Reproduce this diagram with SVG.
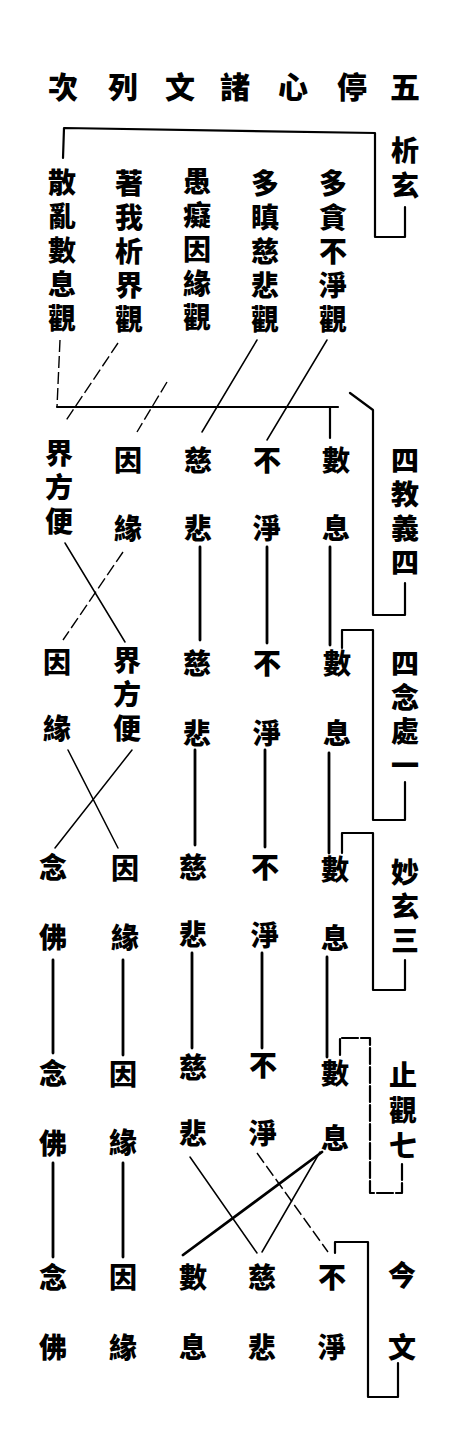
<svg xmlns="http://www.w3.org/2000/svg" width="452" height="1440" viewBox="0 0 452 1440">
<style>
text{font-family:"Noto Sans CJK TC","Noto Sans CJK SC",sans-serif;font-weight:900;fill:#000;font-size:28px}
.t{font-size:30px;text-anchor:middle}
.v{writing-mode:vertical-rl;text-anchor:start}
.ln{fill:none;stroke:#000;stroke-width:2.2;stroke-linecap:round;stroke-linejoin:round}
.th{fill:none;stroke:#000;stroke-width:1.5;stroke-linecap:round}
.ds{fill:none;stroke:#000;stroke-width:1.4;stroke-dasharray:12 4}
.hv{fill:none;stroke:#000;stroke-width:2.8;stroke-linecap:round}
</style>
<rect width="452" height="1440" fill="#fff"/>
<g id="title">
<text class="t" x="405" y="98">五</text><text class="t" x="352" y="98">停</text><text class="t" x="293" y="98">心</text><text class="t" x="235" y="98">諸</text><text class="t" x="180" y="98">文</text><text class="t" x="123" y="98">列</text><text class="t" x="63" y="98">次</text>
</g>
<g id="src-xuanxuan"><text class="v" x="405" y="136" letter-spacing="7">析玄</text></g>
<g id="n-bujing-guan"><text class="v" x="333" y="169" letter-spacing="6">多貪不淨觀</text></g>
<g id="n-cibei-guan"><text class="v" x="265" y="169" letter-spacing="6">多瞋慈悲觀</text></g>
<g id="n-yinyuan-guan"><text class="v" x="197" y="167" letter-spacing="6">愚癡因緣觀</text></g>
<g id="n-jie-guan"><text class="v" x="129" y="169" letter-spacing="6">著我析界觀</text></g>
<g id="n-shuxi-guan"><text class="v" x="62" y="168" letter-spacing="6">散亂數息觀</text></g>

<g id="src-sijiaoyi"><text class="v" x="405" y="446" letter-spacing="6">四教義四</text></g>
<g id="r2-shuxi"><text class="v" x="336" y="446" letter-spacing="40">數息</text></g>
<g id="r2-bujing"><text class="v" x="267" y="446" letter-spacing="40">不淨</text></g>
<g id="r2-cibei"><text class="v" x="198" y="446" letter-spacing="40">慈悲</text></g>
<g id="r2-yinyuan"><text class="v" x="128" y="446" letter-spacing="40">因緣</text></g>
<g id="r2-jiefangbian"><text class="v" x="59" y="439" letter-spacing="6">界方便</text></g>

<g id="src-sinianchu"><text class="v" x="405" y="649" letter-spacing="6">四念處一</text></g>
<g id="r3-shuxi"><text class="v" x="337" y="649" letter-spacing="42">數息</text></g>
<g id="r3-bujing"><text class="v" x="267" y="649" letter-spacing="42">不淨</text></g>
<g id="r3-cibei"><text class="v" x="197" y="649" letter-spacing="42">慈悲</text></g>
<g id="r3-jiefangbian"><text class="v" x="127" y="646" letter-spacing="6">界方便</text></g>
<g id="r3-yinyuan"><text class="v" x="57" y="648" letter-spacing="38">因緣</text></g>

<g id="src-miaoxuan"><text class="v" x="405" y="858" letter-spacing="6">妙玄三</text></g>
<g id="r4-shuxi"><text class="v" x="335" y="855" letter-spacing="41">數息</text></g>
<g id="r4-bujing"><text class="v" x="265" y="853" letter-spacing="40">不淨</text></g>
<g id="r4-cibei"><text class="v" x="193" y="853" letter-spacing="39">慈悲</text></g>
<g id="r4-yinyuan"><text class="v" x="125" y="854" letter-spacing="41">因緣</text></g>
<g id="r4-nianfo"><text class="v" x="53" y="853" letter-spacing="42">念佛</text></g>

<g id="src-zhiguan"><text class="v" x="403" y="1061" letter-spacing="7">止觀七</text></g>
<g id="r5-shuxi"><text class="v" x="335" y="1059" letter-spacing="37">數息</text></g>
<g id="r5-bujing"><text class="v" x="263" y="1051" letter-spacing="40">不淨</text></g>
<g id="r5-cibei"><text class="v" x="193" y="1053" letter-spacing="38">慈悲</text></g>
<g id="r5-yinyuan"><text class="v" x="123" y="1060" letter-spacing="40">因緣</text></g>
<g id="r5-nianfo"><text class="v" x="53" y="1059" letter-spacing="42">念佛</text></g>

<g id="src-jinwen"><text class="v" x="402" y="1261" letter-spacing="44">今文</text></g>
<g id="r6-bujing"><text class="v" x="332" y="1263" letter-spacing="42">不淨</text></g>
<g id="r6-cibei"><text class="v" x="262" y="1263" letter-spacing="42">慈悲</text></g>
<g id="r6-shuxi"><text class="v" x="193" y="1263" letter-spacing="42">數息</text></g>
<g id="r6-yinyuan"><text class="v" x="123" y="1263" letter-spacing="42">因緣</text></g>
<g id="r6-nianfo"><text class="v" x="53" y="1263" letter-spacing="42">念佛</text></g>

<g id="connectors">
<path class="ln" d="M63,158 L64,128 L375,133 L375,237 L405,237 L405,207"/>
<path class="ln" d="M350,393 L373,410 L373,615 L405,615 L405,583"/>
<path class="ln" d="M342,648 L342,630 L373,630 L373,820 L405,820 L405,782"/>
<path class="ln" d="M342,853 L342,833 L373,833 L373,990 L405,990 L405,960"/>
<path class="ln" d="M340,1055 L340,1038 L370,1038 L370,1193 L402,1193 L402,1163" stroke-dasharray="16 3"/>
<path class="ln" d="M335,1253 L335,1242 L368,1242 L368,1397 L398,1397 L398,1363"/>

<path class="ds" d="M60,340 L57,407"/>
<path class="ln" d="M57,407 L338,407"/>
<path class="ln" d="M330,407 L330,438"/>
<path class="th" d="M327,340 L267,440"/>
<path class="th" d="M257,340 L202,432"/>
<path class="ds" d="M167,382 L137,432"/>
<path class="ds" d="M118,343 L65,422"/>

<path class="hv" d="M330,547 L330,645"/>
<path class="hv" d="M267,547 L267,643"/>
<path class="hv" d="M200,547 L200,640"/>
<path class="th" d="M65,543 L125,642"/>
<path class="ds" d="M123,552 L63,640"/>

<path class="hv" d="M329,753 L329,853"/>
<path class="hv" d="M265,750 L265,847"/>
<path class="hv" d="M195,750 L195,845"/>
<path class="th" d="M68,750 L118,848"/>
<path class="th" d="M132,750 L55,848"/>

<path class="hv" d="M327,957 L327,1057"/>
<path class="hv" d="M262,953 L262,1048"/>
<path class="hv" d="M192,953 L192,1048"/>
<path class="hv" d="M123,960 L123,1055"/>
<path class="hv" d="M53,960 L53,1053"/>

<path class="hv" d="M123,1163 L123,1257"/>
<path class="hv" d="M53,1163 L53,1257"/>
<path class="hv" d="M322,1152 L183,1255"/>
<path class="th" d="M320,1152 L262,1252"/>
<path class="th" d="M190,1157 L257,1253"/>
<path class="ds" d="M257,1153 L328,1252"/>
</g>
</svg>
